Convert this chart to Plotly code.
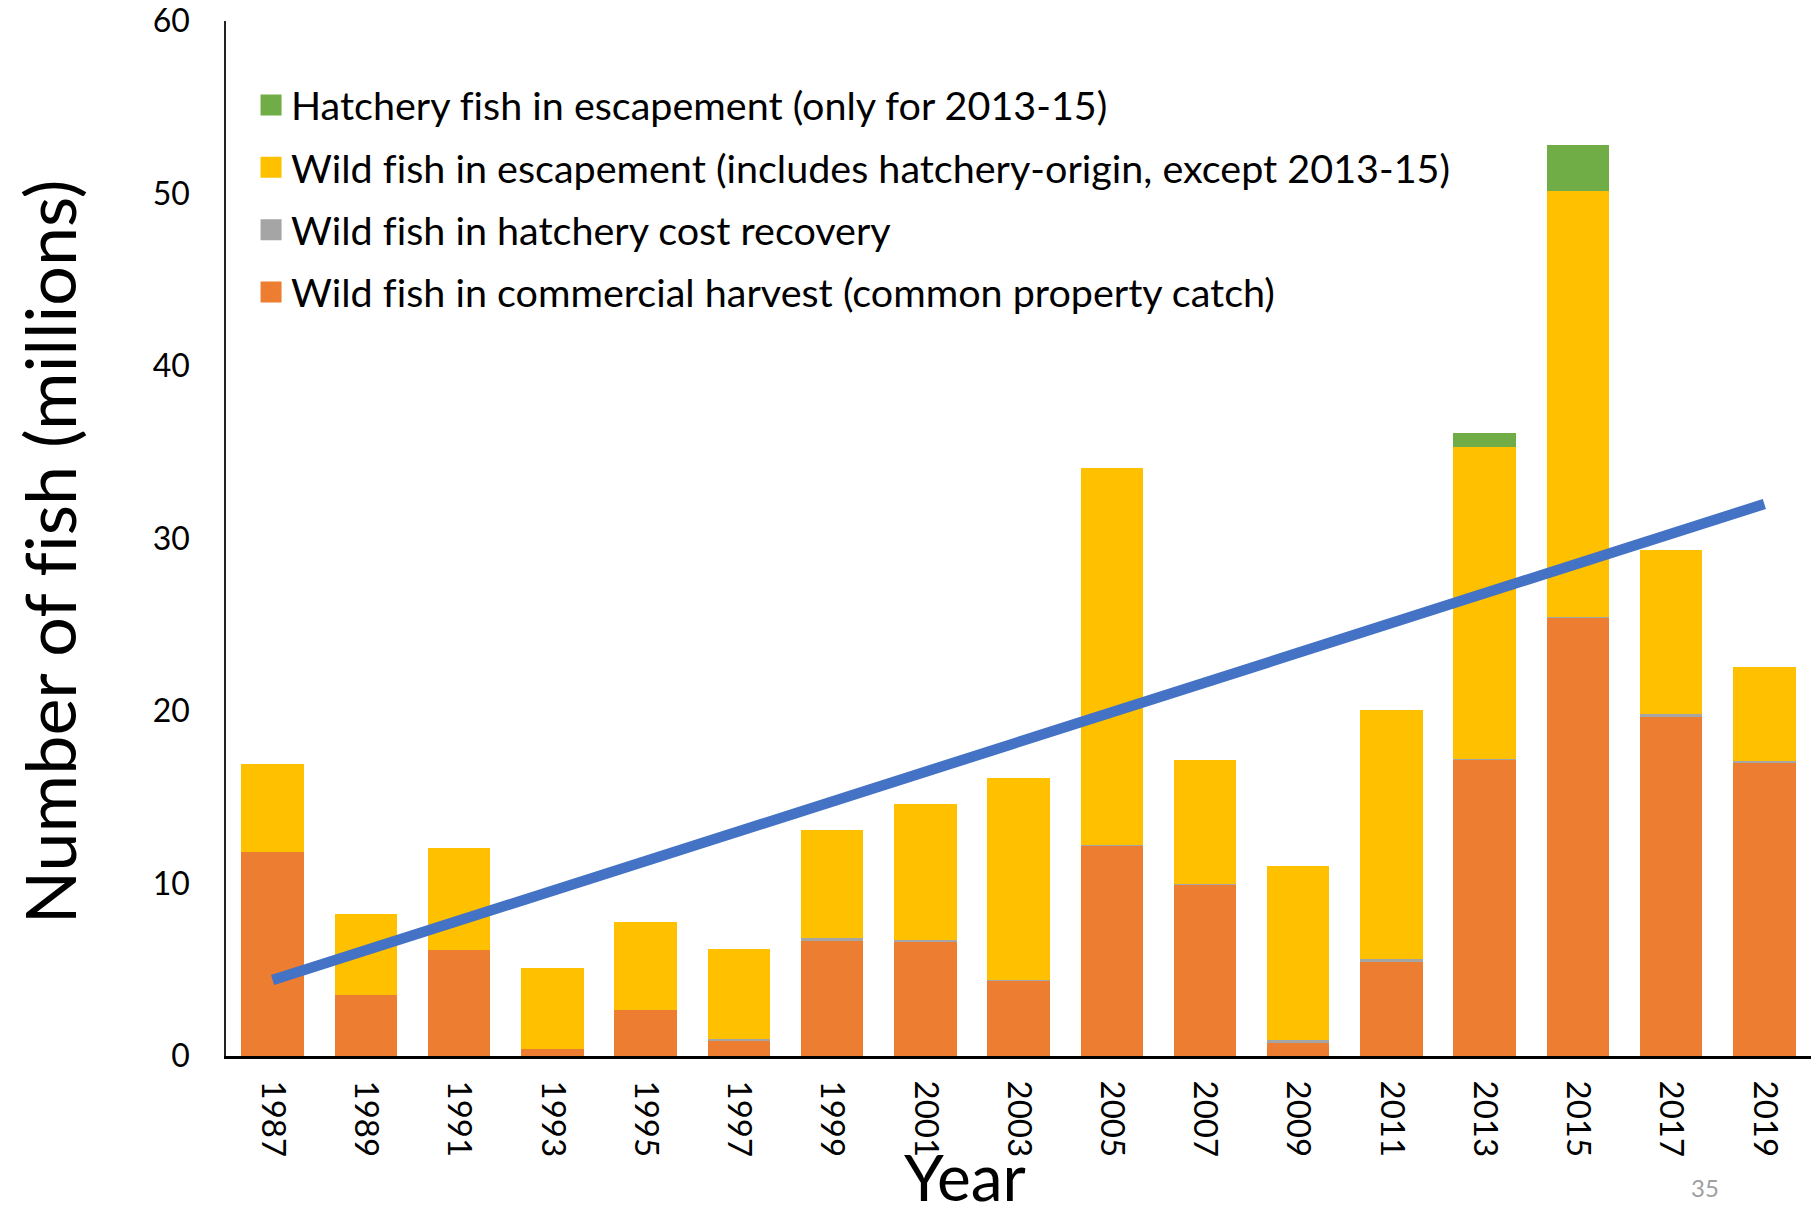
import plotly.graph_objects as go

years = ["1987", "1989", "1991", "1993", "1995", "1997", "1999", "2001", "2003",
         "2005", "2007", "2009", "2011", "2013", "2015", "2017", "2019"]
commercial = [11.85, 3.55, 6.12, 0.40, 2.65, 0.88, 6.69, 6.60, 4.39,
              12.19, 9.92, 0.78, 5.45, 17.19, 25.44, 19.67, 16.97]
cost_recovery = [0.0, 0.0, 0.0, 0.0, 0.0, 0.12, 0.15, 0.15, 0.03,
                 0.05, 0.05, 0.14, 0.20, 0.03, 0.03, 0.18, 0.15]
wild_escapement = [5.10, 4.70, 5.91, 4.72, 5.10, 5.20, 6.26, 7.85, 11.68,
                   21.83, 7.20, 10.08, 14.40, 18.10, 24.65, 9.49, 5.43]
hatchery_escapement = [0, 0, 0, 0, 0, 0, 0, 0, 0,
                       0, 0, 0, 0, 0.78, 2.70, 0, 0]
trend_years = ["1987", "2019"]
trend_values = [4.4, 32.0]

names = [
    "Wild fish in commercial harvest (common property catch)",
    "Wild fish in hatchery cost recovery",
    "Wild fish in escapement (includes hatchery-origin, except 2013-15)",
    "Hatchery fish in escapement (only for 2013-15)",
]
colors = ["#ED7D31", "#A5A5A5", "#FFC000", "#70AD47"]
series = [commercial, cost_recovery, wild_escapement, hatchery_escapement]

FONT = "Lato"
ZWNJ = "\u200c"  # keeps "f" and "i" from forming a ligature

fig = go.Figure()
for name, col, vals in zip(names, colors, series):
    fig.add_trace(go.Bar(x=years, y=vals, name=name, marker_color=col,
                         marker_line_width=0, showlegend=False))

fig.add_trace(go.Scatter(x=trend_years, y=trend_values, mode="lines",
                         line=dict(color="#4472C4", width=10.5), showlegend=False,
                         hoverinfo="skip"))

# legend entries (square swatches), top entry first
for i, (name, col) in enumerate(zip(names[::-1], colors[::-1])):
    fig.add_trace(go.Scatter(x=[None], y=[None], mode="markers",
                             name=name.replace("fi", "f" + ZWNJ + "i"),
                             marker=dict(symbol="square", size=16, color=col,
                                         line=dict(color=col, width=5)),
                             legendgroup=f"g{i}", showlegend=True))

fig.update_layout(
    width=1803, height=1196,
    margin=dict(l=218, r=0, t=13, b=148),
    paper_bgcolor="white", plot_bgcolor="white",
    barmode="stack", bargap=0.33,
    font=dict(family=FONT, color="black"),
    legend=dict(x=0.0158, y=0.950, xanchor="left", yanchor="top",
                traceorder="grouped", tracegroupgap=8,
                font=dict(size=39.5, family=FONT, color="black"),
                bgcolor="rgba(0,0,0,0)", itemsizing="trace"),
    xaxis=dict(type="category", range=[-0.5, 16.5], tickangle=90,
               tickfont=dict(size=33, family=FONT, color="black"),
               ticklabelstandoff=15, automargin=False,
               showline=True, linecolor="black", linewidth=3,
               ticks="", showgrid=False, zeroline=False),
    yaxis=dict(range=[0, 60], dtick=10, tickfont=dict(size=32, family=FONT, color="black"),
               ticklabelstandoff=28, ticklabeloverflow="allow", automargin=False,
               showline=True, linecolor="#222222", linewidth=1.5,
               ticks="", ticklen=0, showgrid=False, zeroline=False),
    annotations=[
        dict(text="Number of f" + ZWNJ + "ish (millions)", textangle=-90,
             xref="paper", yref="paper",
             x=-0.1115, y=0.487, xanchor="center", yanchor="middle", showarrow=False,
             font=dict(size=70, family=FONT, color="black")),
        dict(text="Year", xref="paper", yref="paper", x=0.466, y=-0.1558,
             xanchor="center", yanchor="bottom", showarrow=False,
             font=dict(size=64, family=FONT, color="black")),
        dict(text="35", xref="paper", yref="paper", x=0.933, y=-0.1275,
             xanchor="center", yanchor="middle", showarrow=False,
             font=dict(size=24, family=FONT, color="#A0A0A0")),
    ],
)

fig.write_html("out.html")
